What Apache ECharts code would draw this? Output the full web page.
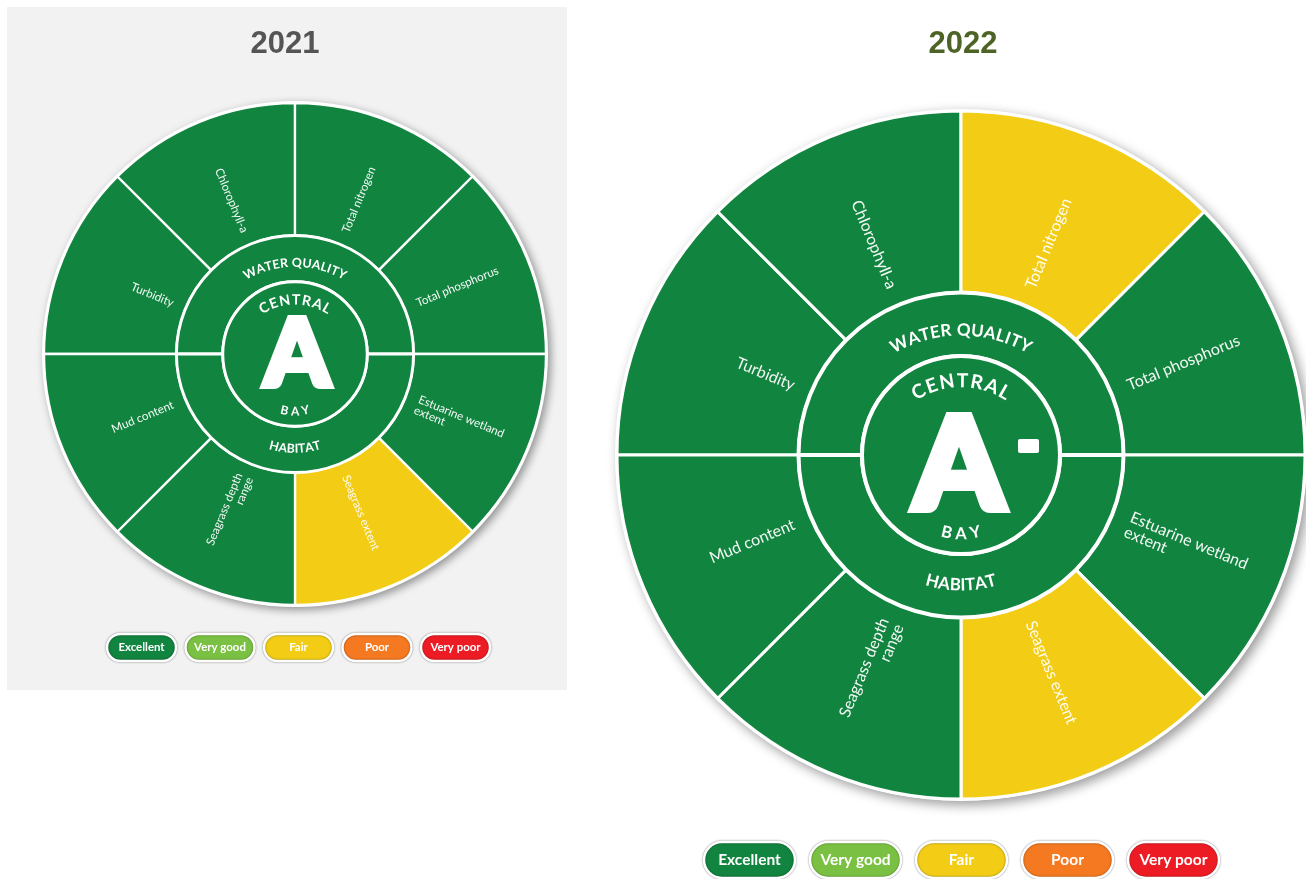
<!DOCTYPE html>
<html>
<head>
<meta charset="utf-8">
<script src="https://cdn.jsdelivr.net/npm/echarts@6/dist/echarts.min.js"></script>
<style>
  html, body { margin: 0; padding: 0; background: #fff; }
  #chart { width: 1306px; height: 879px; }
</style>
</head>
<body>
<div id="chart"></div>
<script>
// indicators, clockwise from the left horizontal
const indicators = ['Turbidity', 'Chlorophyll-a', 'Total nitrogen', 'Total phosphorus',
  'Estuarine wetland\nextent', 'Seagrass extent', 'Seagrass depth\nrange', 'Mud content']
const ratings2021 = ['Excellent', 'Excellent', 'Excellent', 'Excellent', 'Excellent', 'Fair', 'Excellent', 'Excellent']
const ratings2022 = ['Excellent', 'Excellent', 'Fair', 'Excellent', 'Excellent', 'Fair', 'Excellent', 'Excellent']
const legendLabels = ['Excellent', 'Very good', 'Fair', 'Poor', 'Very poor']
const legendColors = ['#11843f', '#7ac143', '#f2cc15', '#f47920', '#ed1c24']
const years = ['2021', '2022']
const grades = ['A', 'A-']
const themes = ['WATER QUALITY', 'HABITAT']
const regionName = ['CENTRAL', 'BAY']

const colorOf = name => legendColors[legendLabels.indexOf(name)]

// layout of the two wheels
const wheels = [
  { cx: 295, cy: 354, r: 251, ratings: ratings2021, titleX: 285, titleColor: '#555555',
    aX: 297, aY: 356, legX: 107, legStep: 78.5, legW: 69, legH: 27, legY: 634 },
  { cx: 961, cy: 455, r: 344, ratings: ratings2022, titleX: 963, titleColor: '#4d6426',
    aX: 959, aY: 468, legX: 704, legStep: 106, legW: 91, legH: 36, legY: 842 }
]
wheels.forEach(w => { w.k = w.r / 344 })

const ctx = document.createElement('canvas').getContext('2d')

// letters set along an arc (text on a path)
function arcLetters(text, w, spec, top) {
  const k = w.k
  const size = spec.size * k, r = spec.r * k
  ctx.font = 'bold ' + size + 'px Lato'
  const chars = text.split('')
  const widths = chars.map(c => ctx.measureText(c).width)
  const sum = widths.reduce((a, b) => a + b, 0)
  const L = spec.span * Math.PI / 180 * r
  const gap = (L - sum) / (chars.length - 1)
  const ox = w.cx, oy = w.cy + 14 * k
  let pos = -L / 2
  return chars.map((c, i) => {
    const s = pos + widths[i] / 2
    pos += widths[i] + gap
    const t = s / r
    return {
      type: 'text', z: 100, silent: true,
      x: ox + r * Math.sin(t),
      y: top ? oy - r * Math.cos(t) : oy + r * Math.cos(t),
      rotation: top ? -t : t,
      style: { text: c, fill: '#fff', fontSize: size, fontWeight: 'bold', fontFamily: 'Lato',
        align: 'center', verticalAlign: 'middle' }
    }
  })
}

const series = []
const graphic = [
  { type: 'rect', z: -10, silent: true, shape: { x: 7, y: 7, width: 560, height: 683 }, style: { fill: '#f2f2f2' } }
]

wheels.forEach((w, wi) => {
  const k = w.k
  const ring = 162.5 * k, core = 99 * k
  const base = { type: 'pie', center: [w.cx, w.cy], startAngle: 180, clockwise: true,
    silent: true, animation: false, emphasis: { disabled: true }, label: { show: false }, labelLine: { show: false } }

  // white backing disc with shadow
  series.push(Object.assign({}, base, {
    radius: [0, w.r + 2],
    data: [{ value: 1, itemStyle: { color: '#fff' } }],
    itemStyle: { shadowBlur: 12 * k, shadowOffsetX: 4 * k, shadowOffsetY: 4 * k, shadowColor: 'rgba(0,0,0,0.4)' }
  }))

  // indicator segments
  series.push(Object.assign({}, base, {
    radius: [ring, w.r],
    avoidLabelOverlap: false,
    data: indicators.map((name, i) => ({ name: name, value: 1, itemStyle: { color: colorOf(w.ratings[i]) } })),
    itemStyle: { borderColor: '#fff', borderWidth: 2.5 * k + 0.5 },
    label: { show: true, position: 'inside', formatter: '{b}', color: 'rgba(255,255,255,0.95)',
      fontFamily: 'Lato', fontWeight: 'normal', fontSize: 16 * k, lineHeight: 16 * k },
    labelLayout: function (p) {
      const mid = (180 - 45 * (p.dataIndex + 0.5)) * Math.PI / 180
      const right = Math.cos(mid) > 0
      const deg = mid * 180 / Math.PI
      return {
        x: w.cx + w.r * 0.525 * Math.cos(mid),
        y: w.cy - w.r * 0.525 * Math.sin(mid),
        align: right ? 'left' : 'right',
        verticalAlign: 'middle',
        rotate: right ? deg : deg - 180
      }
    }
  }))

  // theme ring
  series.push(Object.assign({}, base, {
    radius: [core, ring],
    data: themes.map(t => ({ name: t, value: 1, itemStyle: { color: legendColors[0] } })),
    itemStyle: { borderColor: '#fff', borderWidth: 4 * k }
  }))

  // centre disc
  series.push(Object.assign({}, base, {
    radius: [0, core],
    data: [{ name: regionName.join(' '), value: 1, itemStyle: { color: legendColors[0] } }],
    itemStyle: { borderColor: '#fff', borderWidth: 4 * k }
  }))

  // title
  graphic.push({ type: 'text', z: 100, silent: true, x: w.titleX, y: 44,
    style: { text: years[wi], fill: w.titleColor, fontSize: 31, fontWeight: 'bold',
      fontFamily: '"Liberation Sans", Arial', align: 'center', verticalAlign: 'middle' } })

  // curved captions
  graphic.push(...arcLetters(themes[0], w, { size: 17, r: 139, span: 60 }, true))
  graphic.push(...arcLetters(themes[1], w, { size: 17, r: 116, span: 35 }, false))
  graphic.push(...arcLetters(regionName[0], w, { size: 19.5, r: 88, span: 66 }, true))
  graphic.push(...arcLetters(regionName[1], w, { size: 16.5, r: 65, span: 35 }, false))

  // grade letter
  const g = grades[wi]
  graphic.push({ type: 'text', z: 100, silent: true, x: w.aX, y: w.aY,
    style: { text: g.charAt(0), fill: '#fff', stroke: '#fff', lineWidth: 8 * k, lineJoin: 'round',
      fontSize: 128 * k, fontWeight: 900, fontFamily: 'Lato', align: 'center', verticalAlign: 'middle' } })
  if (g.indexOf('-') > 0) {
    graphic.push({ type: 'rect', z: 100, silent: true,
      shape: { x: 1018, y: 439, width: 21, height: 14, r: 2 }, style: { fill: '#fff' } })
  }

  // rating key
  legendLabels.forEach((lab, i) => {
    const x = w.legX + i * w.legStep
    graphic.push({ type: 'rect', z: 50, silent: true,
      shape: { x: x, y: w.legY, width: w.legW, height: w.legH, r: w.legH / 2 },
      style: { fill: legendColors[i], stroke: '#fff', lineWidth: 2.5,
        shadowBlur: 2, shadowColor: 'rgba(0,0,0,0.45)' } })
    graphic.push({ type: 'text', z: 60, silent: true, x: x + w.legW / 2, y: w.legY + w.legH / 2,
      style: { text: lab, fill: '#fff', fontSize: 15 * k + 0.5, fontWeight: 'bold',
        fontFamily: 'Lato', align: 'center', verticalAlign: 'middle' } })
  })
})

const chart = echarts.init(document.getElementById('chart'))
chart.setOption({
  animation: false,
  backgroundColor: '#ffffff',
  series: series,
  graphic: graphic
})
</script>
</body>
</html>
